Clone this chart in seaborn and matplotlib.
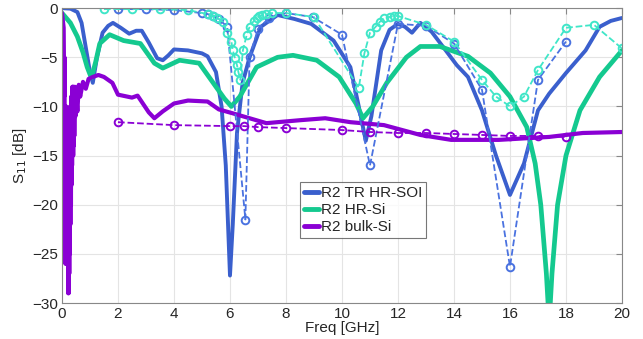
import numpy as np
import matplotlib
matplotlib.use("Agg")
from matplotlib import pyplot as plt
import seaborn as sns

# simulated S11 (solid curves)
soi_freq = [0, 0.3, 0.55, 0.7, 0.85, 1.0, 1.1, 1.25, 1.45, 1.65, 1.82, 2.1, 2.4, 2.65, 2.85, 3.1,
            3.4, 3.6, 3.8, 4.0, 4.5, 5.0, 5.2, 5.5, 5.7, 5.85, 6.0, 6.1, 6.25, 6.45, 6.7, 7.1, 7.7,
            8.3, 8.9, 9.7, 10.3, 10.6, 10.85, 11.05, 11.4, 11.7, 12.0, 12.25, 12.5, 12.8, 13.2,
            13.6, 14.1, 14.5, 15.0, 15.5, 16.0, 16.5, 17.0, 17.4, 18.0, 18.7, 19.2, 19.6, 20.0]
soi_db = [0, -0.05, -0.4, -1.5, -4.0, -6.5, -7.6, -5.0, -2.5, -1.8, -1.5, -2.0, -2.6, -2.3, -2.3, -3.5,
          -5.1, -5.3, -4.8, -4.2, -4.3, -4.6, -4.9, -6.5, -10.0, -16.0, -27.2, -22.0, -12.7, -7.6, -5.0, -1.9, -0.7,
          -1.1, -1.6, -3.3, -6.0, -10.0, -13.5, -11.0, -4.3, -2.2, -1.6, -1.9, -2.5, -1.5, -2.4,
          -3.9, -5.8, -7.0, -10.4, -15.0, -19.0, -15.8, -10.4, -8.7, -6.6, -4.3, -1.9, -1.3, -1.0]

hrsi_freq = [0, 0.3, 0.55, 0.75, 0.9, 1.05, 1.2, 1.35, 1.7, 2.2, 2.8, 3.3, 3.6, 4.2, 4.9, 5.5, 5.8,
             6.05, 6.35, 6.95, 7.7, 8.25, 9.1, 9.9, 10.5, 10.75, 11.1, 11.6, 12.3, 12.8, 13.5, 14.5,
             15.3, 16.0, 16.6, 16.9, 17.1, 17.3, 17.4, 17.5, 17.7, 18.0, 18.5, 19.2, 20.0]
hrsi_db = [-0.5, -1.5, -2.9, -4.5, -6.0, -7.1, -5.5, -3.6, -2.7, -3.3, -3.6, -5.6, -6.1, -5.3, -5.6, -8.0, -9.2,
           -10.0, -9.0, -6.0, -5.0, -4.8, -5.3, -7.0, -9.7, -11.2, -10.0, -7.6, -5.0, -3.9, -3.9, -4.9,
           -6.6, -9.0, -12.1, -15.8, -20.0, -27.0, -32.0, -27.0, -20.0, -15.0, -10.4, -7.0, -4.3]

# bulk-Si is very noisy below 0.5 GHz
bulk_freq = [0, 0.04, 0.06, 0.08, 0.09, 0.1, 0.11, 0.12, 0.13, 0.14, 0.15, 0.16, 0.17, 0.18, 0.19,
             0.2, 0.21, 0.22, 0.23, 0.24, 0.25, 0.26, 0.27, 0.28, 0.29, 0.3, 0.31, 0.32, 0.33, 0.34,
             0.35, 0.36, 0.37, 0.38, 0.39, 0.4, 0.41, 0.42, 0.43, 0.44, 0.46, 0.48, 0.5, 0.55, 0.6,
             0.65, 0.75, 0.85, 0.95, 1.1, 1.3, 1.5, 1.8, 2.0, 2.5, 2.7, 3.1, 3.3,
             3.6, 4.0, 4.5, 5.2, 5.6, 6.1, 7.3, 8.5, 9.4, 10.3, 11.5, 12.8, 13.9, 15.6, 17.4, 18.6, 20.0]
bulk_db = [-0.5, -1.5, -2, -9, -5, -19, -10, -26, -12, -22, -10, -26, -14, -20, -12,
           -26, -13, -29, -16, -29, -14, -27, -12, -25, -10, -22, -10, -20, -9, -18,
           -9, -16, -8, -15, -8, -15, -8, -14, -9, -13, -8, -11, -8.5, -10.5, -7.8,
           -9.0, -7.5, -8.2, -7.2, -7.0, -6.8, -7.0, -7.6, -8.8, -9.1, -8.9, -10.6, -11.2,
           -10.5, -9.7, -9.4, -9.5, -10.3, -10.7, -11.7, -11.4, -11.2, -11.6, -11.9, -12.9, -13.4, -13.4, -13.1, -12.7, -12.6]

# measured S11 (dashed + circles)
soi_meas_freq = [2, 3, 4, 5, 5.2, 5.4, 5.6, 5.9, 6.55, 6.7, 7.0, 7.4, 8.0, 8.95, 10.0, 11.0, 12.0,
                 13.0, 14.0, 15.0, 16.0, 17.0, 18.0]
soi_meas_db = [-0.1, -0.1, -0.2, -0.5, -0.6, -0.8, -1.1, -1.9, -21.5, -5.0, -2.1, -1.0, -0.5, -0.9, -2.7, -16.0, -1.6,
               -1.8, -3.6, -8.3, -26.3, -7.3, -3.4]

hrsi_meas_freq = [1.5, 2.5, 3.5, 4.5, 5.2, 5.4, 5.55, 5.75, 5.9, 6.05, 6.1, 6.18, 6.25, 6.3, 6.37, 6.46,
                  6.6, 6.7, 6.85, 6.95, 7.05, 7.15, 7.3, 7.5, 8.0, 9.0, 10.6, 10.8, 11.0, 11.2, 11.35, 11.5,
                  11.7, 11.85, 12.0, 13.0, 14.0, 15.0, 15.5, 16.0, 16.5, 17.0, 18.0, 19.0, 20.0]
hrsi_meas_db = [-0.1, -0.1, -0.1, -0.2, -0.6, -0.8, -1.0, -1.4, -2.5, -3.4, -4.3, -5.1, -5.8, -6.5, -7.3, -4.3,
                -2.7, -1.9, -1.3, -1.0, -0.8, -0.7, -0.6, -0.5, -0.5, -0.9, -8.1, -4.6, -2.5, -1.9, -1.4, -1.0,
                -0.9, -0.8, -0.8, -1.7, -3.4, -7.3, -9.0, -10.0, -9.0, -6.3, -2.0, -1.7, -4.1]

bulk_meas_freq = [2, 4, 6, 6.5, 7, 8, 10, 11, 12, 13, 14, 15, 16, 17, 18]
bulk_meas_db = [-11.6, -11.9, -12.0, -12.0, -12.1, -12.2, -12.4, -12.6, -12.7, -12.7, -12.8, -12.9, -13.0, -13.0, -13.1]

blue = '#3a5fcd'
green = '#14c98f'
purple = '#8a00d4'
blue_dash = '#4a72e0'
cyan_dash = '#3fe6c8'

sns.set_style('whitegrid', {'grid.color': '#e4e4e4', 'axes.edgecolor': '#888888'})
plt.rcParams['font.family'] = ['Liberation Sans', 'DejaVu Sans']

fig = plt.figure(figsize=(6.43, 3.39), dpi=100)
ax = fig.add_axes([0.0964, 0.106, 0.8709, 0.870])

sns.lineplot(x=soi_freq, y=soi_db, ax=ax, color=blue, lw=2.8, sort=False, estimator=None, label='R2 TR HR-SOI')
sns.lineplot(x=hrsi_freq, y=hrsi_db, ax=ax, color=green, lw=3.4, sort=False, estimator=None, label='R2 HR-Si')
sns.lineplot(x=bulk_freq, y=bulk_db, ax=ax, color=purple, lw=3.0, sort=False, estimator=None, label='R2 bulk-Si')

meas = [(soi_meas_freq, soi_meas_db, blue_dash),
        (hrsi_meas_freq, hrsi_meas_db, cyan_dash),
        (bulk_meas_freq, bulk_meas_db, purple)]
for fx, fy, c in meas:
    sns.lineplot(x=fx, y=fy, ax=ax, color=c, lw=1.3, ls='--', marker='o', markersize=5.5,
                 markerfacecolor='none', markeredgecolor=c, markeredgewidth=1.4,
                 sort=False, estimator=None, legend=False)

ax.set_xlim(0, 20)
ax.set_ylim(-30, 0)
ax.set_xticks(range(0, 21, 2))
ax.set_yticks(range(-30, 1, 5))
ax.tick_params(direction='in', top=True, right=True, length=4, labelsize=11, pad=3, color='#888888')
ax.set_xlabel('Freq [GHz]', fontsize=11, labelpad=0)
ax.set_ylabel('S$_{11}$ [dB]', fontsize=11, labelpad=2)

leg = ax.legend(loc='upper left', bbox_to_anchor=(0.425, 0.41), fontsize=11, frameon=True, fancybox=False,
                handlelength=1.0, handletextpad=0.1, labelspacing=0.2, borderpad=0.25, borderaxespad=0)
leg.get_frame().set_edgecolor('#555555')
leg.get_frame().set_linewidth(0.8)
for h in leg.get_lines():
    h.set_linewidth(3.5)

fig.savefig('out.png', dpi=100)
